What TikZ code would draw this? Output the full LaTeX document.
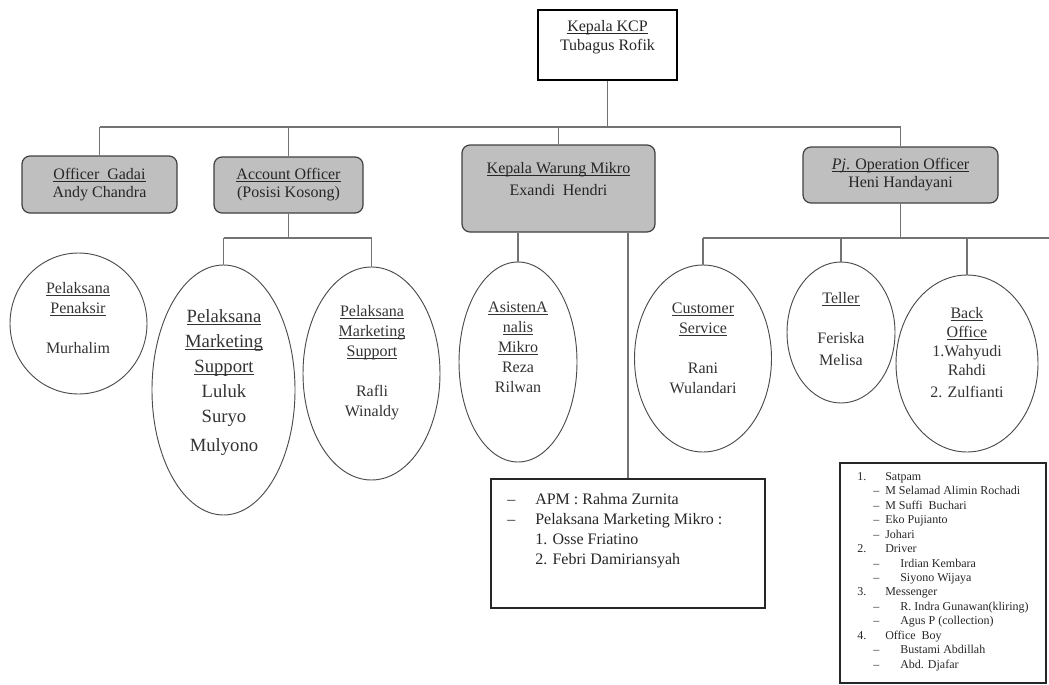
\documentclass[tikz,border=0pt]{standalone}
\usepackage{fontspec}
\setmainfont{Liberation Serif}
\usetikzlibrary{shapes.geometric}

\newsavebox{\titlebox}
\newcommand{\titleline}[1]{\sbox\titlebox{#1}\rlap{\rule[-1.6pt]{\wd\titlebox}{0.6pt}}\usebox\titlebox}

\begin{document}
\begin{tikzpicture}[x=0.75pt,y=-0.75pt,
    head box/.style={draw=black, fill=white, line width=0.9pt, minimum width=104.25pt, minimum height=52.5pt, inner sep=0pt},
    unit box/.style={draw=black!75, fill=black!25, rounded corners=6pt, line width=0.9pt, inner sep=0pt, align=center, text=black!85, font=\fontsize{12}{13.5}\selectfont},
    list box/.style={draw=black!85, line width=0.8pt, inner sep=0pt},
    staff oval/.style={ellipse, draw=black!70, line width=0.7pt, inner sep=0pt},
    staff text/.style={align=center, inner sep=0pt, text=black!80, font=\fontsize{12}{15}\selectfont},
    list text/.style={align=left, inner sep=0pt, anchor=north west, text=black!85},
    link/.style={draw=black!55, line width=0.8pt}]

    \useasboundingbox (0,0) rectangle (1049,685);

    % Kepala KCP
    \node[head box] (kcp) at (607.5,45) {};
    \node[staff text, text=black!85, font=\fontsize{12}{14.25}\selectfont] (kcpT) at (607.5,37.5) {\titleline{Kepala KCP}\\Tubagus Rofik};

    % Second row
    \node[unit box, minimum width=116.25pt, minimum height=42.75pt] (gadai) at (99.5,184.5) {\titleline{Officer\ \ Gadai}\\Andy Chandra};
    \node[unit box, minimum width=111.75pt, minimum height=42pt] (ao) at (288.5,185) {\titleline{Account Officer}\\(Posisi Kosong)};
    \node[unit box, minimum width=144.75pt, minimum height=65.25pt] (kwm) at (558.5,188.5) {};
    \node[staff text, text=black!85, font=\fontsize{12}{16.5}\selectfont] (kwmT) at (558.5,179) {\titleline{Kepala Warung Mikro}\\Exandi\ \ Hendri};
    \node[unit box, minimum width=146.25pt, minimum height=42pt] (pjo) at (900.5,175) {\titleline{\textit{Pj}. Operation Officer}\\Heni Handayani};

    % Staff ovals
    \node[staff oval, minimum width=102.75pt, minimum height=105.75pt] (penaksir) at (78.5,323.5) {};
    \node[staff text] (penaksirT) at (78,318) {\titleline{Pelaksana}\\\titleline{Penaksir}\\[15pt]Murhalim};

    \node[staff oval, minimum width=107.25pt, minimum height=187.5pt] (mktsupA) at (223.5,390) {};
    \node[staff text, font=\fontsize{14}{18.75}\selectfont] (mktsupAT) at (224,382.5) {\titleline{Pelaksana}\\\titleline{Marketing}\\\titleline{Support}\\Luluk\\Suryo\\[3pt]Mulyono};

    \node[staff oval, minimum width=102.75pt, minimum height=159.75pt] (mktsupB) at (371.5,373.5) {};
    \node[staff text] (mktsupBT) at (372,362.5) {\titleline{Pelaksana}\\\titleline{Marketing}\\\titleline{Support}\\[15pt]Rafli\\Winaldy};

    \node[staff oval, minimum width=88.5pt, minimum height=150pt] (asisten) at (518,362) {};
    \node[staff text] (asistenT) at (518,347.5) {\titleline{AsistenA}\\\titleline{nalis}\\\titleline{Mikro}\\Reza\\Rilwan};

    \node[staff oval, minimum width=102.75pt, minimum height=140.25pt] (cs) at (703,358.5) {};
    \node[staff text] (csT) at (703,348.5) {\titleline{Customer}\\\titleline{Service}\\[15pt]Rani\\Wulandari};

    \node[staff oval, minimum width=81pt, minimum height=105.75pt] (teller) at (841,332.5) {};
    \node[staff text] (tellerT) at (841,329.5) {\titleline{Teller}\\[15pt]Feriska\\[1.5pt]Melisa};

    \node[staff oval, minimum width=106.5pt, minimum height=132.75pt] (backoff) at (967,363.5) {};
    \node[staff text, font=\fontsize{12}{14.25}\selectfont] (backoffT) at (967,352.5) {\titleline{Back}\\\titleline{Office}\\1.Wahyudi\\Rahdi\\[2pt]2. Zulfianti};

    % Lists
    \node[list box, minimum width=205.5pt, minimum height=96.75pt] (apm) at (628,543.5) {};
    \node[list text, font=\fontsize{12}{15}\selectfont] (apmT) at (507,493) {\makebox[21pt][l]{--}APM : Rahma Zurnita\\
        \makebox[21pt][l]{--}Pelaksana Marketing Mikro :\\
        \hspace*{21pt}1. Osse Friatino\\
        \hspace*{21pt}2. Febri Damiriansyah};

    \node[list box, minimum width=154.5pt, minimum height=165pt] (satpam) at (943,573) {};
    \node[list text, font=\fontsize{9}{10.85}\selectfont] (satpamT) at (857,472) {\makebox[21pt][l]{1.}Satpam\\
        \hspace*{12pt}\makebox[9pt][l]{--}M Selamad Alimin Rochadi\\
        \hspace*{12pt}\makebox[9pt][l]{--}M Suffi\ \ Buchari\\
        \hspace*{12pt}\makebox[9pt][l]{--}Eko Pujianto\\
        \hspace*{12pt}\makebox[9pt][l]{--}Johari\\
        \makebox[21pt][l]{2.}Driver\\
        \hspace*{12pt}\makebox[20.25pt][l]{--}Irdian Kembara\\
        \hspace*{12pt}\makebox[20.25pt][l]{--}Siyono Wijaya\\
        \makebox[21pt][l]{3.}Messenger\\
        \hspace*{12pt}\makebox[20.25pt][l]{--}R. Indra Gunawan(kliring)\\
        \hspace*{12pt}\makebox[20.25pt][l]{--}Agus P (collection)\\
        \makebox[21pt][l]{4.}Office\ \ Boy\\
        \hspace*{12pt}\makebox[20.25pt][l]{--}Bustami Abdillah\\
        \hspace*{12pt}\makebox[20.25pt][l]{--}Abd. Djafar};

    % Connectors
    \coordinate (bus) at (0,127);
    \coordinate (lowbus) at (0,238);
    \coordinate (pbusR) at (1049,238);
    \draw[link] (kcp.south) -- (kcp.south |- bus);
    \draw[link] (gadai.north |- bus) -- (pjo.north |- bus);
    \foreach \n in {gadai,ao,kwm,pjo}
        \draw[link] (\n.north |- bus) -- (\n.north);

    \draw[link] (ao.south) -- (ao.south |- lowbus);
    \draw[link] (mktsupA.north |- lowbus) -- (mktsupB.north |- lowbus);
    \foreach \n in {mktsupA,mktsupB}
        \draw[link] (\n.north |- lowbus) -- (\n.north);

    \draw[link] (kwm.south -| asisten.north) -- (asisten.north);
    \draw[link] (kwm.south -| apm.north) -- (apm.north);

    \draw[link] (pjo.south) -- (pjo.south |- lowbus);
    \draw[link] (cs.north |- lowbus) -- (pbusR);
    \foreach \n in {cs,teller,backoff}
        \draw[link] (\n.north |- lowbus) -- (\n.north);
\end{tikzpicture}
\end{document}
